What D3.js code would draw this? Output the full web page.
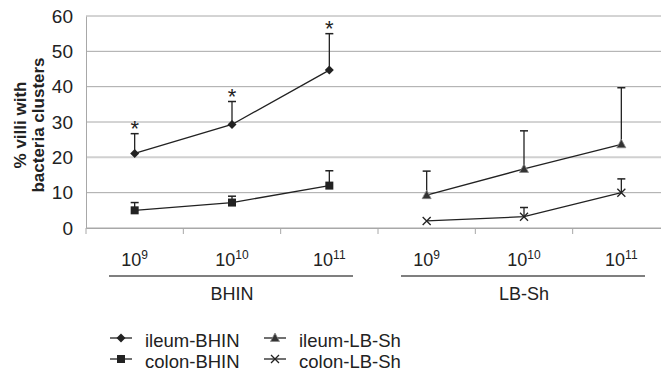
<!DOCTYPE html>
<html><head><meta charset="utf-8">
<script src="https://cdn.jsdelivr.net/npm/d3@7"></script>
<style>body{margin:0;background:#fff}svg{display:block;font-family:"Liberation Sans",Arial,sans-serif}</style>
</head><body>
<svg id="c" width="661" height="372"></svg>
<script>
const groups = ["BHIN", "LB-Sh"];
const doseExp = ["9", "10", "11"];
const categories = ["BHIN-9", "BHIN-10", "BHIN-11", "LB-Sh-9", "LB-Sh-10", "LB-Sh-11"];
const yTicks = [0, 10, 20, 30, 40, 50, 60];
const ileumBHIN = [21.1, 29.3, 44.7, null, null, null];
const ileumBHINErr = [26.7, 35.8, 55.0, null, null, null];
const colonBHIN = [5.0, 7.2, 12.0, null, null, null];
const colonBHINErr = [7.2, 9.0, 16.2, null, null, null];
const ileumLBSh = [null, null, null, 9.3, 16.7, 23.7];
const ileumLBShErr = [null, null, null, 16.1, 27.5, 39.7];
const colonLBSh = [null, null, null, 2.0, 3.2, 10.0];
const colonLBShErr = [null, null, null, 2.0, 5.8, 13.9];
const significant = [true, true, true, false, false, false];
const seriesNames = ["ileum-BHIN", "colon-BHIN", "ileum-LB-Sh", "colon-LB-Sh"];

const series = [
  {name: seriesNames[0], vals: ileumBHIN, err: ileumBHINErr, sym: "diamond"},
  {name: seriesNames[1], vals: colonBHIN, err: colonBHINErr, sym: "square"},
  {name: seriesNames[2], vals: ileumLBSh, err: ileumLBShErr, sym: "triangle"},
  {name: seriesNames[3], vals: colonLBSh, err: colonLBShErr, sym: "x"}
];

const svg = d3.select("#c");
const x = d3.scaleBand().domain(categories).range([86, 670]);
const y = d3.scaleLinear().domain([0, 60]).range([228, 16]);
const cx = c => x(c) + x.bandwidth() / 2;

// grid
svg.append("g").selectAll("line").data(yTicks).join("line")
  .attr("x1", 86).attr("x2", 670).attr("y1", d => y(d)).attr("y2", d => y(d))
  .attr("stroke", d => d === 20 ? "#d0d0d0" : "#a8a8a8").attr("stroke-width", d => d === 20 ? 2 : 1);
// y axis
const ya = svg.append("g").attr("transform", "translate(86,0)")
  .call(d3.axisLeft(y).tickValues(yTicks).tickSize(0).tickPadding(13));
ya.select(".domain").attr("stroke", "#a8a8a8");
ya.selectAll("text").attr("font-size", 19).attr("fill", "#222").attr("font-family", "Liberation Sans, Arial, sans-serif");
// x axis ticks
const xa = svg.append("g").attr("transform", "translate(0,228)")
  .call(d3.axisBottom(x).tickSize(0).tickFormat(""));
xa.select(".domain").attr("stroke", "#a8a8a8");
svg.append("g").selectAll("line").data(categories).join("line")
  .attr("x1", d => x(d)).attr("x2", d => x(d)).attr("y1", 228).attr("y2", 234)
  .attr("stroke", "#a8a8a8");

// y label
const yl = svg.append("text").attr("transform", "translate(29,125) rotate(-90)")
  .attr("text-anchor", "middle").attr("font-weight", "bold").attr("font-size", 17).attr("fill", "#222");
yl.append("tspan").attr("x", 0).attr("dy", "-0.2em").text("% villi with");
yl.append("tspan").attr("x", 0).attr("dy", "1.08em").text("bacteria clusters");

// dose labels
categories.forEach((c, i) => {
  const t = svg.append("text").attr("x", cx(c)).attr("y", 266).attr("text-anchor", "middle")
    .attr("font-size", 18).attr("fill", "#222");
  t.append("tspan").text("10");
  t.append("tspan").attr("font-size", 12).attr("dy", -7).text(doseExp[i % 3]);
});
// group lines + labels
groups.forEach((g, gi) => {
  const cs = categories.slice(gi * 3, gi * 3 + 3);
  const mid = cx(cs[1]);
  svg.append("line").attr("x1", mid - 123).attr("x2", mid + 121).attr("y1", 276).attr("y2", 276)
    .attr("stroke", "#555").attr("stroke-width", 1.3);
  svg.append("text").attr("x", mid).attr("y", 300).attr("text-anchor", "middle")
    .attr("font-size", 18).attr("fill", "#222").text(g);
});

function marker(sel, sym, px, py) {
  if (sym === "diamond") sel.append("path").attr("d", `M${px},${py-4.5}L${px+4.5},${py}L${px},${py+4.5}L${px-4.5},${py}Z`).attr("fill", "#222");
  else if (sym === "square") sel.append("rect").attr("x", px - 4).attr("y", py - 4).attr("width", 8).attr("height", 8).attr("fill", "#222");
  else if (sym === "triangle") sel.append("path").attr("d", `M${px},${py-5}L${px+4.5},${py+3.5}L${px-4.5},${py+3.5}Z`).attr("fill", "#333").attr("stroke", "#888").attr("stroke-width", 0.8);
  else sel.append("path").attr("d", `M${px-4},${py-4}L${px+4},${py+4}M${px-4},${py+4}L${px+4},${py-4}`).attr("stroke", "#222").attr("stroke-width", 1.3);
}

const line = d3.line().defined(d => d.v != null).x(d => cx(d.c)).y(d => y(d.v));
series.forEach(s => {
  const pts = categories.map((c, i) => ({c, v: s.vals[i], e: s.err[i]}));
  const g = svg.append("g");
  pts.filter(p => p.v != null && p.e != null && p.e > p.v).forEach(p => {
    g.append("line").attr("x1", cx(p.c)).attr("x2", cx(p.c)).attr("y1", y(p.v)).attr("y2", y(p.e)).attr("stroke", "#222").attr("stroke-width", 1.3);
    g.append("line").attr("x1", cx(p.c) - 4).attr("x2", cx(p.c) + 4).attr("y1", y(p.e)).attr("y2", y(p.e)).attr("stroke", "#222").attr("stroke-width", 1.5);
  });
  g.append("path").datum(pts).attr("d", line).attr("fill", "none").attr("stroke", "#222").attr("stroke-width", 1.3);
  pts.filter(p => p.v != null).forEach(p => marker(g, s.sym, cx(p.c), y(p.v)));
});
// asterisks
categories.forEach((c, i) => {
  if (significant[i]) svg.append("text").attr("x", cx(c)).attr("y", y(ileumBHINErr[i]) + 2)
    .attr("text-anchor", "middle").attr("font-size", 22).attr("fill", "#222").text("*");
});

// legend
const legPos = [[110, 338], [110, 359], [264, 338], [264, 359]];
series.forEach((s, i) => {
  const [lx, ly] = legPos[i];
  svg.append("line").attr("x1", lx).attr("x2", lx + 22).attr("y1", ly).attr("y2", ly).attr("stroke", "#222").attr("stroke-width", 1.3);
  marker(svg, s.sym, lx + 11, ly);
  svg.append("text").attr("x", lx + 35).attr("y", ly + 8.5).attr("font-size", 18.5).attr("fill", "#222").text(s.name);
});
</script>
</body></html>
